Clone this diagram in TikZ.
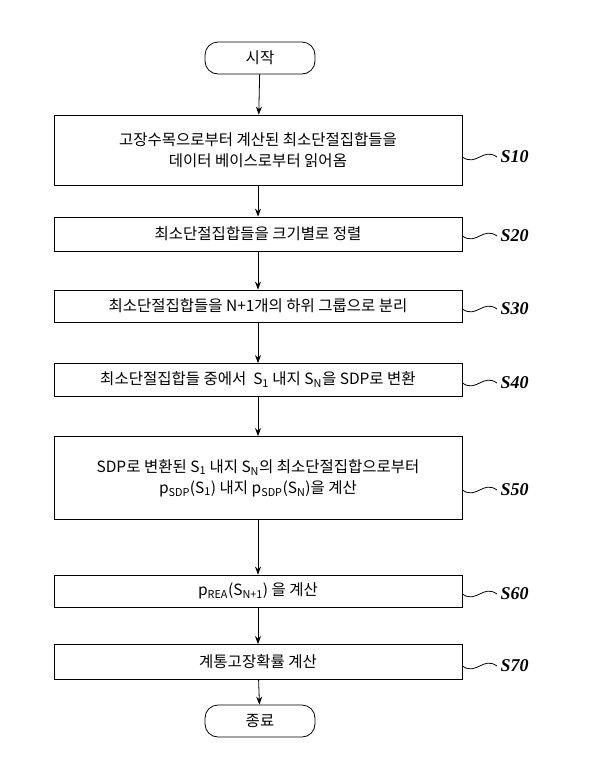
\documentclass[tikz,border=0pt]{standalone}
\usepackage{fontspec}
\setmainfont{Noto Sans CJK KR}
\newfontfamily\labelfont{Liberation Serif}
\usetikzlibrary{arrows.meta}

\begin{document}
\begin{tikzpicture}[x=1pt,y=-1pt]

    %--- Styles
    \tikzset{step box/.style={draw, line width=0.8pt, minimum width=408pt, align=center, font=\fontsize{15.5}{21}\selectfont, inner sep=0pt},
             term box/.style={draw, line width=0.8pt, rounded corners=13pt, minimum width=110pt, minimum height=32pt, font=\fontsize{15.5}{17}\selectfont},
             step label/.style={font=\labelfont\itshape\bfseries\fontsize{18}{20}\selectfont, anchor=west},
             flow/.style={line width=0.8pt, -{Stealth[length=8pt,width=6pt]}},
             wave/.style={line width=0.8pt}}

    \useasboundingbox (0,0) rectangle (600,761);

    %--- Terminals
    \node[term box] (start) at (260,58)  {시작};
    \node[term box] (stop)  at (260,721) {종료};

    %--- Steps
    \node[step box, minimum height=70pt] (s10) at (258,150) {고장수목으로부터 계산된 최소단절집합들을\\데이터 베이스로부터 읽어옴};
    \node[step box, minimum height=34pt] (s20) at (258,234) {최소단절집합들을 크기별로 정렬};
    \node[step box, minimum height=32pt] (s30) at (258,306) {최소단절집합들을 N+1개의 하위 그룹으로 분리};
    \node[step box, minimum height=33pt] (s40) at (258,380) {최소단절집합들 중에서 \ S\textsubscript{1} 내지 S\textsubscript{N}을 SDP로 변환};
    \node[step box, minimum height=83pt] (s50) at (258,478) {SDP로 변환된 S\textsubscript{1} 내지 S\textsubscript{N}의 최소단절집합으로부터\\p\textsubscript{SDP}(S\textsubscript{1}) 내지 p\textsubscript{SDP}(S\textsubscript{N})을 계산};
    \node[step box, minimum height=32pt] (s60) at (258,591) {p\textsubscript{REA}(S\textsubscript{N+1}) 을 계산};
    \node[step box, minimum height=35pt] (s70) at (258,662) {계통고장확률 계산};

    %--- Labels
    \node[step label] (l10) at (497,157) {S10};
    \node[step label] (l20) at (497,236) {S20};
    \node[step label] (l30) at (497,309) {S30};
    \node[step label] (l40) at (497,383) {S40};
    \node[step label] (l50) at (497,490) {S50};
    \node[step label] (l60) at (497,594) {S60};
    \node[step label] (l70) at (497,666) {S70};

    %--- Flow
    \draw[flow] (start) -- (s10);
    \draw[flow] (s10) -- (s20);
    \draw[flow] (s20) -- (s30);
    \draw[flow] (s30) -- (s40);
    \draw[flow] (s40) -- (s50);
    \draw[flow] (s50) -- (s60);
    \draw[flow] (s60) -- (s70);
    \draw[flow] (s70) -- (stop);

    %--- Wavy leaders
    \foreach \s in {10,20,30,40,50,60,70}
        \draw[wave] (l\s.west) .. controls +(-14,-10) and +(14,10) .. (l\s.west -| s\s.east);

\end{tikzpicture}
\end{document}
